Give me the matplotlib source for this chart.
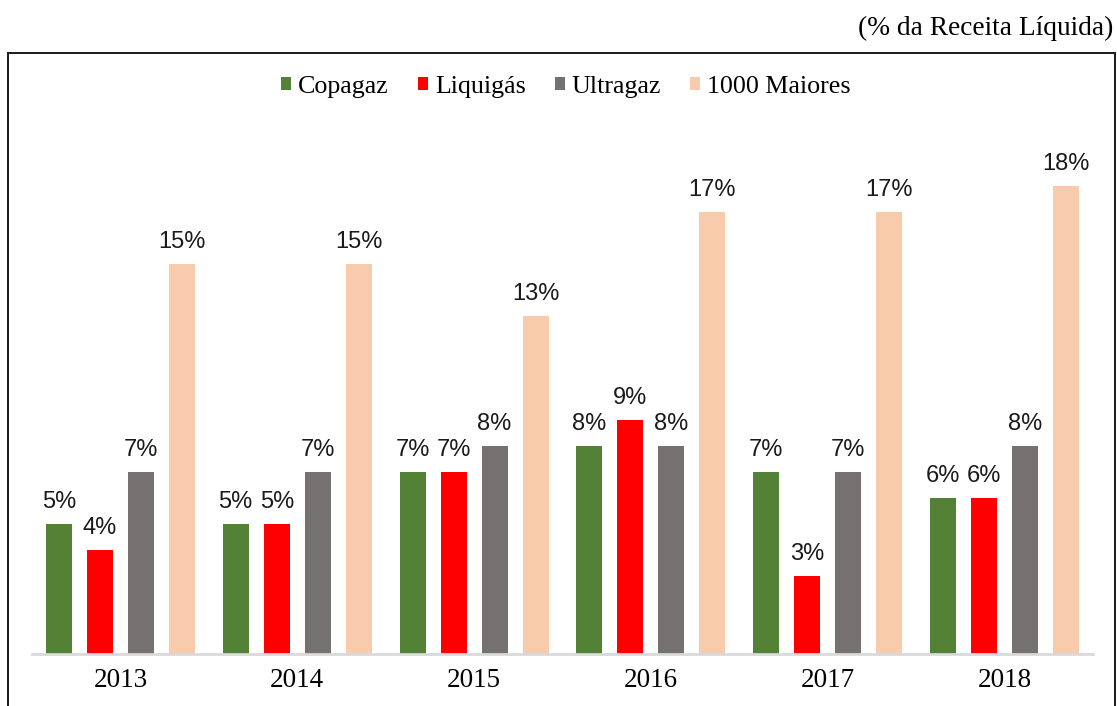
import matplotlib
matplotlib.use("Agg")
import matplotlib.pyplot as plt
from matplotlib import font_manager
import numpy as np
from matplotlib.patches import Rectangle

years = ["2013", "2014", "2015", "2016", "2017", "2018"]
series_names = ["Copagaz", "Liquigás", "Ultragaz", "1000 Maiores"]
copagaz = [5, 5, 7, 8, 7, 6]
liquigas = [4, 5, 7, 9, 3, 6]
ultragaz = [7, 7, 8, 8, 7, 8]
maiores = [15, 15, 13, 17, 17, 18]
colors = ["#538135", "#FF0000", "#767171", "#F8CBAD"]

# narrow sans for data labels if available
label_family = "Liberation Sans"
label_size = 17
try:
    font_manager.findfont(font_manager.FontProperties(family="Liberation Sans Narrow"),
                          fallback_to_default=False)
    label_family = "Liberation Sans Narrow"
    label_size = 20
except Exception:
    pass

W, H = 1117, 706
fig = plt.figure(figsize=(W / 100, H / 100), dpi=100)
ax = fig.add_axes([32 / W, (H - 654) / H, (1093 - 32) / W, (654 - 134) / H])

x = np.arange(len(years))
width = 0.147
offsets = [-1.5 * 0.232, -0.5 * 0.232, 0.5 * 0.232, 1.5 * 0.232]
all_series = [copagaz, liquigas, ultragaz, maiores]

handles = []
for vals, off, col, name in zip(all_series, offsets, colors, series_names):
    bars = ax.bar(x + off, vals, width, color=col, label=name)
    handles.append(bars)
    for xi, v in zip(x + off, vals):
        ax.annotate(f"{v}%", (xi, v), xytext=(0, 8), textcoords="offset points",
                    ha="center", va="bottom", fontsize=label_size, family=label_family,
                    color="#1a1a1a")

ax.set_xlim(-0.5, 5.5)
ax.set_ylim(0, 20)
ax.set_xticks(x)
ax.set_xticklabels(years, family="Liberation Serif", fontsize=19.5)
ax.tick_params(axis="x", length=0, pad=10)
ax.set_yticks([])
for s in ["top", "right", "left"]:
    ax.spines[s].set_visible(False)
ax.spines["bottom"].set_color("#D9D9D9")
ax.spines["bottom"].set_linewidth(2)

leg = fig.legend(handles=handles, labels=series_names, loc="center",
                 bbox_to_anchor=(566 / W, 1 - 87 / H), ncol=4, frameon=False,
                 prop={"family": "Liberation Serif", "size": 18.7},
                 handlelength=0.4, handleheight=0.4, handletextpad=0.27,
                 columnspacing=1.1)

fig.text(1113 / W, 1 - 28 / H, "(% da Receita Líquida)", ha="right", va="center",
         family="Liberation Serif", fontsize=19.7)

border = Rectangle((7.5 / W, -0.05), (1115 - 7.5) / W, 0.05 + (H - 53.5) / H,
                   transform=fig.transFigure, fill=False, edgecolor="#1a1a1a",
                   linewidth=1.4, clip_on=False)
fig.patches.append(border)

fig.savefig("out.png", dpi=100)
